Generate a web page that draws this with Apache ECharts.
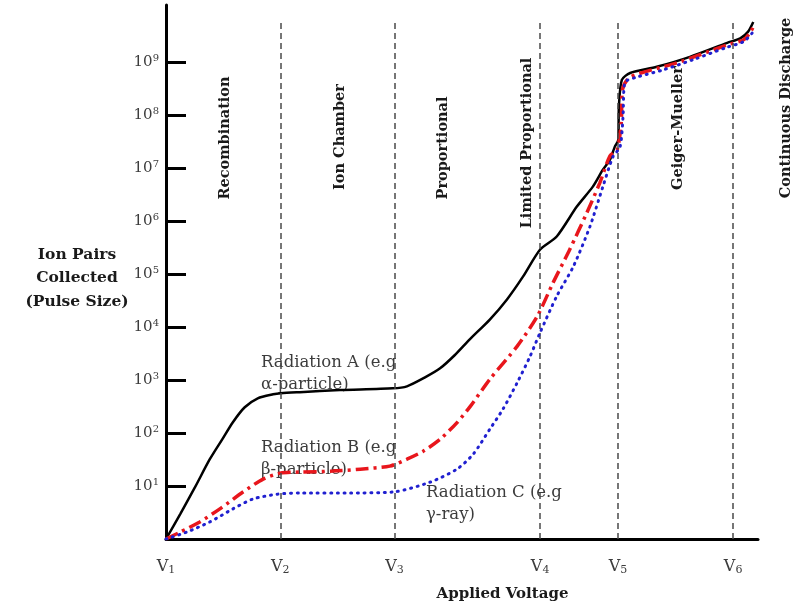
<!DOCTYPE html>
<html><head><meta charset="utf-8">
<script src="https://cdn.jsdelivr.net/npm/echarts@6/dist/echarts.min.js"></script>
<style>html,body{margin:0;padding:0;background:#fff}#c{width:799px;height:607px}</style>
</head><body><div id="c"></div>
<script>
// ---- data (x: applied voltage, arbitrary units 0-100; y: ion pairs collected) ----
const voltageSubscripts = ['1', '2', '3', '4', '5', '6'];
const voltagePositions = [0, 19.3, 38.6, 63.2, 76.35, 95.8];
const yTickExponents = [1, 2, 3, 4, 5, 6, 7, 8, 9];
const regionNames = ['Recombination', 'Ion Chamber', 'Proportional', 'Limited Proportional', 'Geiger-Mueller', 'Continuous Discharge'];

const alphaVoltage = [0, 2.4, 4.9, 7.4, 9.5, 11.3, 13.3, 15.5, 18.1, 19.4, 22.6, 29.4, 38.3, 40.7, 43.75, 46.3, 48.8, 51.35, 54.7, 57.6, 60.3, 63.2, 66.0, 69.4, 72.1, 73.8, 75.0, 75.8, 76.4, 76.5, 77.0, 78.4, 82.9, 88.5, 94.8, 97.0, 98.3, 99.2];
const alphaIonPairs = [1, 2.95, 9.5, 32, 76, 160, 306, 452, 537, 563, 590, 644, 695, 760, 1120, 1660, 2960, 5900, 1.38e4, 3.31e4, 8.9e4, 2.9e5, 5.1e5, 1.87e6, 4.45e6, 9.3e6, 1.44e7, 2.5e7, 3.4e7, 1.42e8, 4.6e8, 6.2e8, 8.1e8, 1.25e9, 2.3e9, 2.8e9, 3.7e9, 5.7e9];

const betaVoltage = [0, 2.4, 5.7, 9.1, 13.0, 16.4, 19.3, 22.6, 28.2, 32.8, 37.8, 40.7, 43.4, 46.3, 49.2, 51.4, 54.7, 59.3, 62.7, 65.4, 68.2, 71.1, 73.3, 75.0, 76.2, 76.9, 77.1, 78.4, 86.3, 94.8, 97.5, 98.6, 99.2];
const betaIonPairs = [1, 1.35, 2.1, 3.7, 7.7, 13.5, 17.5, 18.3, 19.1, 20.8, 23.7, 32, 45, 76, 159, 318, 1030, 4300, 1.58e4, 6.9e4, 2.9e5, 1.44e6, 5.3e6, 1.7e7, 2.2e7, 7.1e7, 3.0e8, 5.2e8, 9.6e8, 2.1e9, 2.6e9, 3.5e9, 4.6e9];

const gammaVoltage = [0, 3.5, 7.4, 11.3, 14.7, 18.8, 22.6, 31.1, 38.3, 44.6, 49.2, 51.9, 54.7, 56.9, 59.3, 61.5, 63.2, 66.0, 68.8, 71.6, 73.8, 75.5, 76.7, 77.2, 77.5, 79.6, 84.0, 89.0, 94.8, 97.5, 99.0, 99.2];
const gammaIonPairs = [1, 1.35, 2.1, 3.7, 5.7, 7.0, 7.4, 7.4, 7.7, 11.8, 21, 40, 118, 280, 880, 2800, 7900, 3.8e4, 1.38e5, 7.8e5, 4.45e6, 1.63e7, 2.5e7, 9.3e7, 4.1e8, 5.2e8, 7.1e8, 1.1e9, 1.9e9, 2.4e9, 3.5e9, 4.4e9];

// ---- build ----
const toPts = (xs, ys) => xs.map((x, i) => [x, Math.log10(ys[i])]);
const SERIF = '"DejaVu Serif", "Liberation Serif", serif';
const chart = echarts.init(document.getElementById('c'), null, {renderer: 'canvas'});

const regionLayout = [[225, 138], [340, 137], [443, 148], [527, 143], [678, 128], [786, 108]];
const graphics = regionNames.map((n, i) => ({
  type: 'text', x: regionLayout[i][0], y: regionLayout[i][1], rotation: Math.PI / 2,
  style: {text: n, font: 'bold 14.5px ' + SERIF, fill: '#1a1a1a', textAlign: 'center', textVerticalAlign: 'middle'}
}));
const notes = [
  ['Radiation A (e.g\nα-particle)', 261, 352],
  ['Radiation B (e.g\nβ-particle)', 261, 437],
  ['Radiation C (e.g\nγ-ray)', 426, 482]
];
notes.forEach(n => graphics.push({
  type: 'text', x: n[1], y: n[2],
  style: {text: n[0], font: '16.5px ' + SERIF, fill: '#3c3c3c', lineHeight: 22, textAlign: 'left', textVerticalAlign: 'top'}
}));
graphics.push({
  type: 'text', x: 77, y: 278,
  style: {text: 'Ion Pairs\nCollected\n(Pulse Size)', font: 'bold 15.5px ' + SERIF, fill: '#1a1a1a', lineHeight: 23.5, textAlign: 'center', textVerticalAlign: 'middle'}
});

const option = {
  backgroundColor: '#fff',
  animation: false,
  grid: {left: 166, right: 41, top: 5, bottom: 67},
  xAxis: {
    type: 'value', min: 0, max: 100,
    name: 'Applied Voltage', nameLocation: 'middle', nameGap: 48,
    nameTextStyle: {fontFamily: SERIF, fontWeight: 'bold', fontSize: 15, color: '#1a1a1a', padding: [0, 0, 0, 81]},
    axisLine: {lineStyle: {color: '#000', width: 3}},
    axisTick: {show: false},
    splitLine: {show: false},
    axisLabel: {
      customValues: voltagePositions, margin: 19,
      formatter: (v) => {
        let k = 0;
        voltagePositions.forEach((p, i) => { if (Math.abs(p - v) < Math.abs(voltagePositions[k] - v)) k = i; });
        return '{v|V}{s|' + voltageSubscripts[k] + '}';
      },
      rich: {
        v: {fontFamily: SERIF, fontSize: 16, color: '#3c3c3c', lineHeight: 18},
        s: {fontFamily: SERIF, fontSize: 11, color: '#3c3c3c', lineHeight: 7, verticalAlign: 'bottom'}
      }
    }
  },
  yAxis: {
    type: 'value', min: 0, max: 10.075,
    axisLine: {show: true, lineStyle: {color: '#000', width: 3}},
    axisTick: {show: true, inside: true, length: 20, customValues: yTickExponents, lineStyle: {color: '#000', width: 3}},
    splitLine: {show: false},
    axisLabel: {
      customValues: yTickExponents, margin: 7,
      formatter: (v) => '{b|10}{e|' + Math.round(v) + '}',
      rich: {
        b: {fontFamily: SERIF, fontSize: 15, color: '#3c3c3c', lineHeight: 18},
        e: {fontFamily: SERIF, fontSize: 10, color: '#3c3c3c', lineHeight: 9, verticalAlign: 'top'}
      }
    }
  },
  graphic: graphics,
  series: [
    {
      type: 'line', name: 'Radiation A', data: toPts(alphaVoltage, alphaIonPairs),
      showSymbol: false, smooth: 0.25, z: 3,
      lineStyle: {color: '#000', width: 2.5},
      markLine: {
        silent: true, symbol: ['none', 'none'], label: {show: false},
        lineStyle: {color: '#4a4a4a', width: 1.5, type: [6, 4]},
        data: voltagePositions.slice(1).map(p => [{coord: [p, 0]}, {coord: [p, 9.76]}])
      }
    },
    {
      type: 'line', name: 'Radiation B', data: toPts(betaVoltage, betaIonPairs),
      showSymbol: false, smooth: 0.25, z: 4,
      lineStyle: {color: '#e8161c', width: 3.5, type: [13, 5, 3, 5]}
    },
    {
      type: 'line', name: 'Radiation C', data: toPts(gammaVoltage, gammaIonPairs),
      showSymbol: false, smooth: 0.25, z: 5,
      lineStyle: {color: '#2020d0', width: 3, type: [1, 5.7], cap: 'round'}
    }
  ]
};
chart.setOption(option);
</script>
</body></html>
